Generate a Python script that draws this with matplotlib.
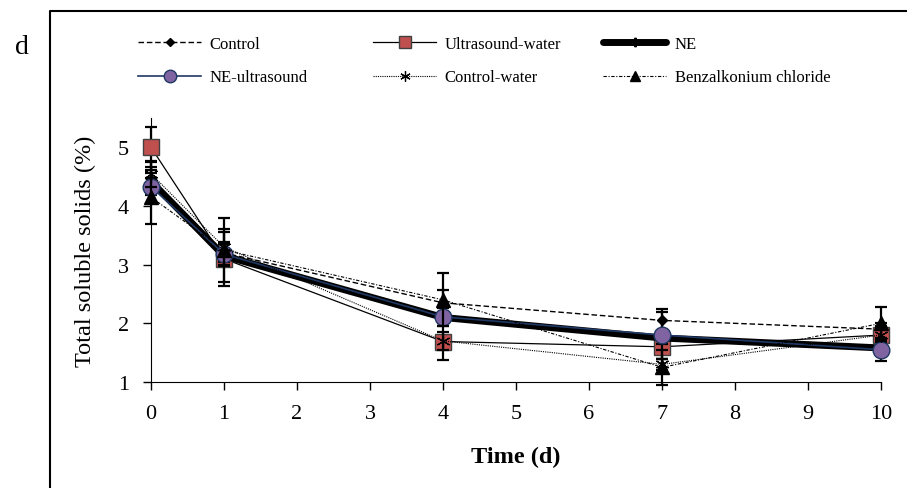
import matplotlib.pyplot as plt
from matplotlib.lines import Line2D

plt.rcParams['font.family'] = ['Liberation Serif', 'DejaVu Serif']

# sampling days
days = [0, 1, 4, 7, 10]

# total soluble solids (%) per treatment
control = [4.40, 3.20, 2.35, 2.05, 1.90]
ultrasound_water = [5.00, 3.10, 1.69, 1.60, 1.80]
ne = [4.42, 3.15, 2.10, 1.75, 1.58]
ne_ultrasound = [4.33, 3.18, 2.11, 1.80, 1.55]
control_water = [4.55, 3.30, 1.70, 1.30, 1.80]
benzalkonium = [4.15, 3.25, 2.40, 1.25, 2.00]

# standard deviations
control_err = [0.35, 0.15, 0.22, 0.20, 0.10]
ultrasound_water_err = [0.34, 0.46, 0.31, 0.20, 0.15]
ne_err = [0.15, 0.10, 0.10, 0.10, 0.10]
ne_ultrasound_err = [0.15, 0.20, 0.15, 0.40, 0.20]
control_water_err = [0.22, 0.30, 0.15, 0.10, 0.10]
benzalkonium_err = [0.46, 0.55, 0.45, 0.30, 0.27]

labels = ['Control', 'Ultrasound-water', 'NE',
          'NE-ultrasound', 'Control-water', 'Benzalkonium chloride']

fig = plt.figure(figsize=(9.07, 4.89), dpi=100)
ax = fig.add_axes([0.1665, 0.2168, 0.8048, 0.5398])

series = [
    (control, control_err, dict(color='black', lw=1.0, ls=(0, (4, 2)), marker='D',
                                ms=5, mfc='black', mec='black')),
    (ultrasound_water, ultrasound_water_err, dict(color='black', lw=0.9, ls='-', marker='s',
                                                  ms=12, mfc='#C0504D', mec='#404040', mew=1)),
    (ne, ne_err, dict(color='black', lw=5, ls='-', marker=(6, 2, 0), solid_capstyle='round',
                      ms=9, mfc='black', mec='black', mew=1.5)),
    (ne_ultrasound, ne_ultrasound_err, dict(color='#1F3864', lw=1.2, ls='-', marker='o',
                                            ms=12, mfc='#8064A2', mec='#1F3864', mew=1)),
    (control_water, control_water_err, dict(color='black', lw=0.8, ls=(0, (1, 1)), marker=(6, 2, 0),
                                            ms=10, mfc='black', mec='black', mew=0.9)),
    (benzalkonium, benzalkonium_err, dict(color='black', lw=0.8, ls=(0, (3, 1.5, 1, 1.5)), marker='^',
                                          ms=10, mfc='black', mec='black')),
]

handles = []
for i, (vals, err, style) in enumerate(series):
    ax.errorbar(days, vals, yerr=err, fmt='none', ecolor='black', elinewidth=1.6,
                capsize=4.5, capthick=1.6, zorder=2 + i, clip_on=False)
    line, = ax.plot(days, vals, label=labels[i], zorder=3 + i, clip_on=False, **style)
    handles.append(line)

ax.set_xlim(0, 10)
ax.set_ylim(1, 5.5)
ax.set_xticks(range(0, 11))
ax.set_yticks([1, 2, 3, 4, 5])
ax.spines['top'].set_visible(False)
ax.spines['right'].set_visible(False)
ax.tick_params(direction='out', length=6, width=1, labelsize=16)
ax.tick_params(axis='x', pad=10)
ax.tick_params(axis='y', pad=10)
ax.set_xlabel('Time (d)', fontsize=17.5, fontweight='bold', labelpad=16)
ax.set_ylabel('Total soluble solids (%)', fontsize=17.5)
ax.yaxis.set_label_coords(-0.076, 0.5)

# legend laid out as three columns of two entries
for col, x0 in enumerate([138 / 907, 373 / 907, 603 / 907]):
    fig.legend(handles=[handles[col], handles[col + 3]], loc='upper left',
               bbox_to_anchor=(x0, 1 - 37 / 489), frameon=False, fontsize=12,
               handlelength=3.8, handletextpad=0.5, labelspacing=1.05,
               markerscale=0.75, borderaxespad=0, borderpad=0)

# outer panel frame and panel letter
fig.add_artist(Line2D([50 / 907, 50 / 907, 1], [0, 1 - 12 / 489, 1 - 12 / 489],
                      color='black', lw=1.5, transform=fig.transFigure))
fig.text(22 / 907, 1 - 48 / 489, 'd', fontsize=20, ha='center', va='center')

fig.savefig('out.png', dpi=100)
